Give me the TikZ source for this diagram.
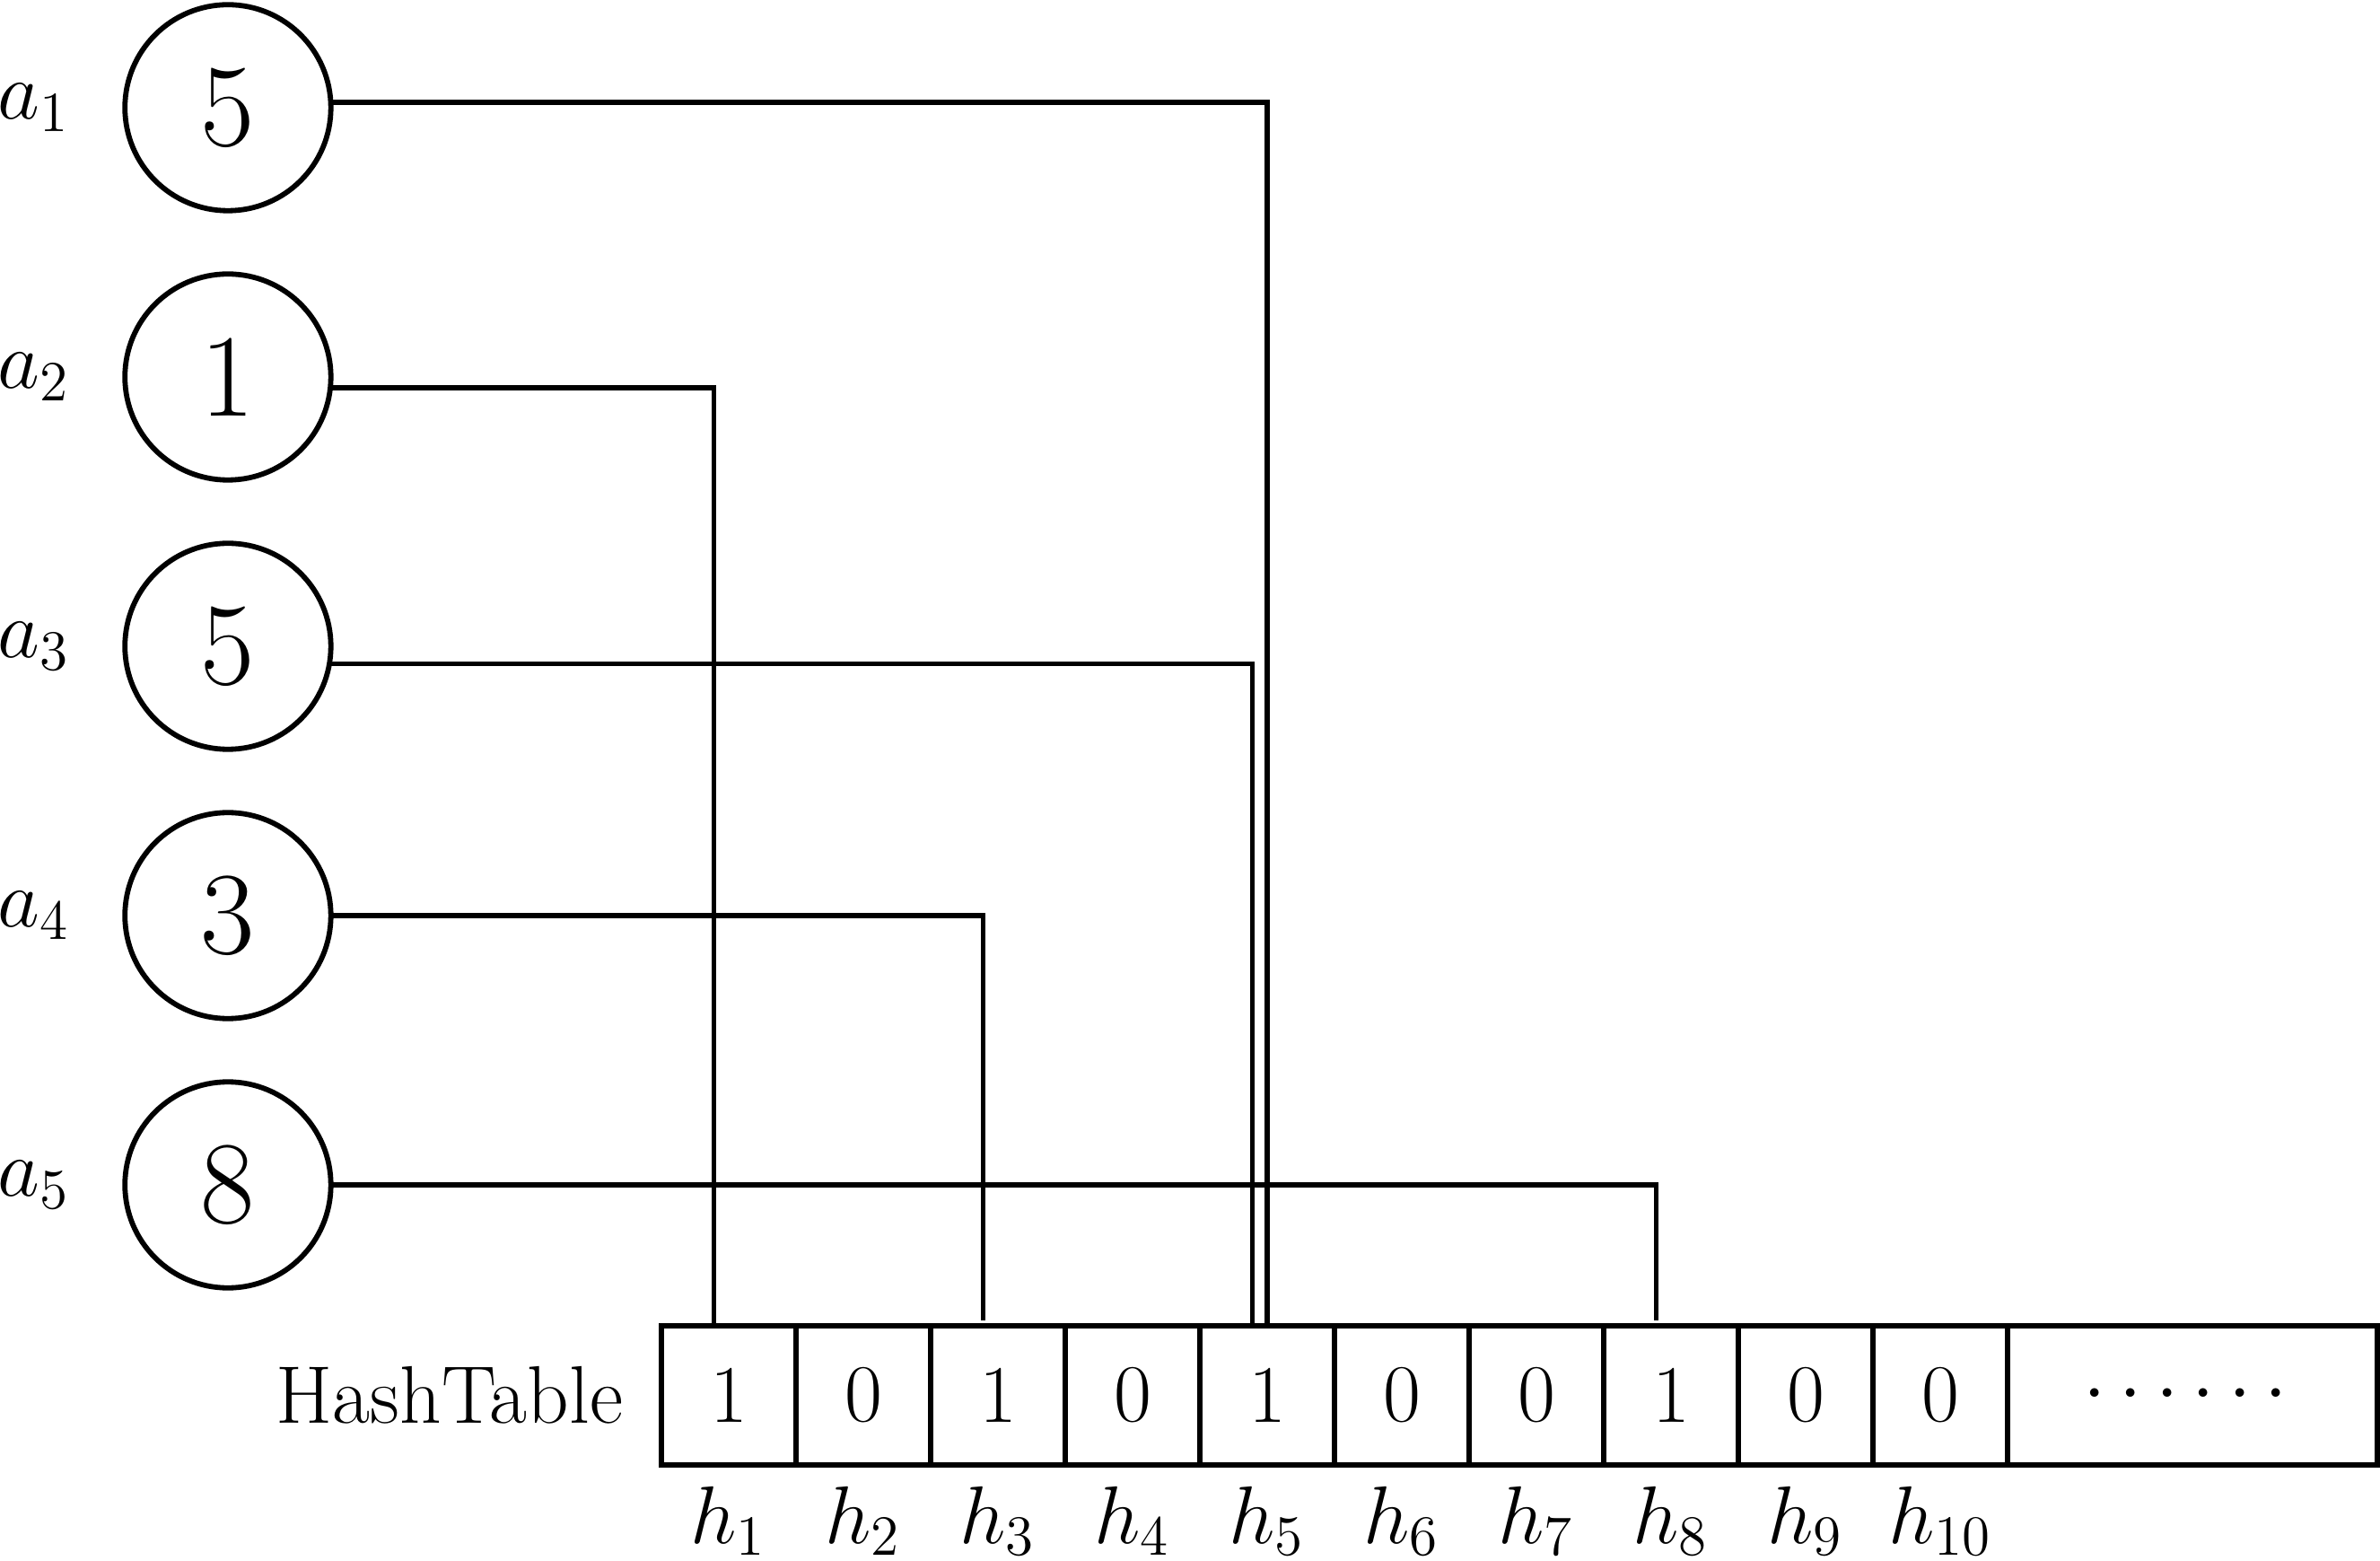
\documentclass[tikz,border=0pt]{standalone}
\usepackage{amsmath,amssymb}
\usepackage{tikz}
\usetikzlibrary{positioning}

\begin{document}
\begin{tikzpicture}[every node/.style={outer sep=0pt},
		elem/.style={circle,draw,line width=1.1pt,minimum size=1.53cm,inner sep=0pt,font=\Huge},
		elemname/.style={inner sep=0pt,font=\LARGE},
		slot/.style={rectangle,draw,line width=1.1pt,minimum width=1cm,minimum height=1.033cm,inner sep=0pt,font=\LARGE},
		slotname/.style={inner sep=0pt,font=\LARGE},
		hashline/.style={line width=1.1pt}]
		\useasboundingbox (0,0) rectangle (17.68,11.587);
		\node[elem] (c1) at (1.693,10.787) {5};
		\node[elem,below=0.47cm of c1] (c2) {1};
		\node[elem,below=0.47cm of c2] (c3) {5};
		\node[elem,below=0.47cm of c3] (c4) {3};
		\node[elem,below=0.47cm of c4] (c5) {8};
		\node[elemname,left=0.41cm of c1] (a1) {$a_1$};
		\node[elemname,left=0.41cm of c2] (a2) {$a_2$};
		\node[elemname,left=0.41cm of c3] (a3) {$a_3$};
		\node[elemname,left=0.41cm of c4] (a4) {$a_4$};
		\node[elemname,left=0.41cm of c5] (a5) {$a_5$};
		\node[slot] (t1) at (5.413,1.2235) {1};
		\node[slot,right=0pt of t1] (t2) {0};
		\node[slot,right=0pt of t2] (t3) {1};
		\node[slot,right=0pt of t3] (t4) {0};
		\node[slot,right=0pt of t4] (t5) {1};
		\node[slot,right=0pt of t5] (t6) {0};
		\node[slot,right=0pt of t6] (t7) {0};
		\node[slot,right=0pt of t7] (t8) {1};
		\node[slot,right=0pt of t8] (t9) {0};
		\node[slot,right=0pt of t9] (t10) {0};
		\node[slot,right=0pt of t10,minimum width=2.747cm] (t11) {$\cdots\cdots$};
		\node[slotname,left=0.287cm of t1] (tabname) {HashTable};
		\node[slotname,below=0.16cm of t1] (h1) {$h_1$};
		\node[slotname,below=0.16cm of t2] (h2) {$h_2$};
		\node[slotname,below=0.16cm of t3] (h3) {$h_3$};
		\node[slotname,below=0.16cm of t4] (h4) {$h_4$};
		\node[slotname,below=0.16cm of t5] (h5) {$h_5$};
		\node[slotname,below=0.16cm of t6] (h6) {$h_6$};
		\node[slotname,below=0.16cm of t7] (h7) {$h_7$};
		\node[slotname,below=0.16cm of t8] (h8) {$h_8$};
		\node[slotname,below=0.16cm of t9] (h9) {$h_9$};
		\node[slotname,below=0.16cm of t10] (h10) {$h_{10}$};
		\draw[hashline] ([yshift=0.4mm]c1.east) -| (t5.north);
		\draw[hashline] ([yshift=-0.8mm]c2.east) -| ([xshift=-1.1mm]t1.north);
		\draw[hashline] ([yshift=-1.3mm]c3.east) -| ([xshift=-1.1mm]t5.north);
		\draw[hashline] (c4.east) -| ([xshift=-1.1mm,yshift=0.4mm]t3.north);
		\draw[hashline] (c5.east) -| ([xshift=-1.1mm,yshift=0.4mm]t8.north);
	\end{tikzpicture}
\end{document}
